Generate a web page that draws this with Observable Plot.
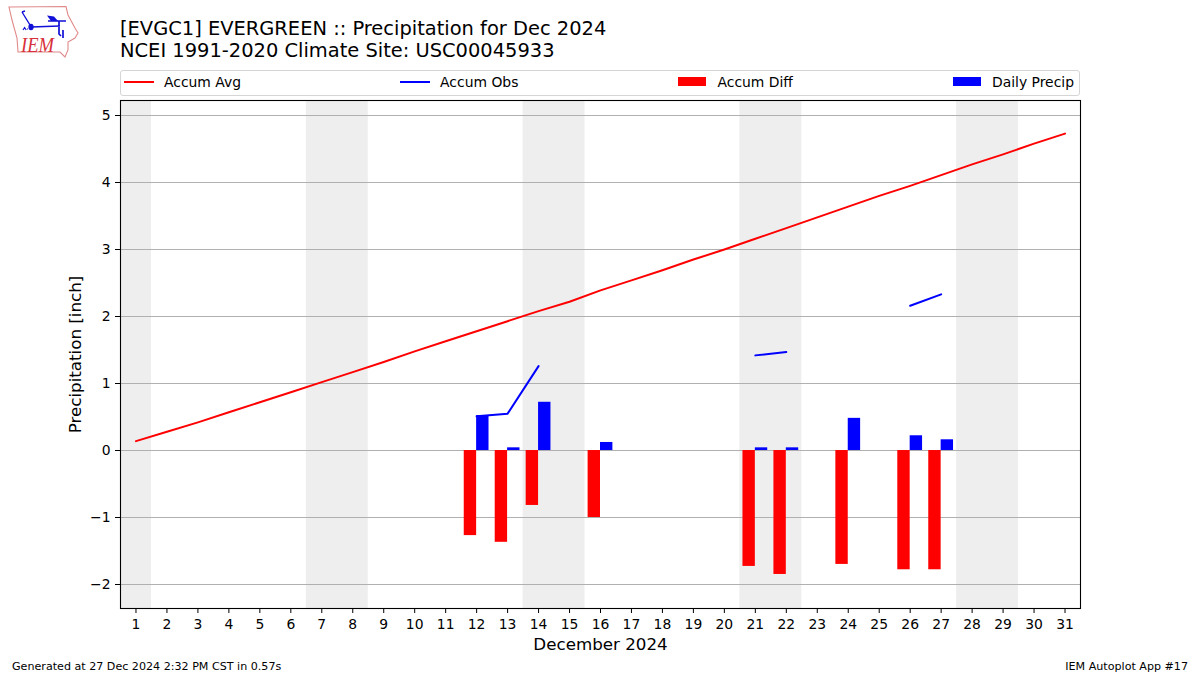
<!DOCTYPE html>
<html><head><meta charset="utf-8">
<script src="https://cdn.jsdelivr.net/npm/d3@7"></script>
<script src="https://cdn.jsdelivr.net/npm/@observablehq/plot@0.6"></script>
<style>
html,body{margin:0;padding:0;background:#fff}
#page{position:relative;width:1200px;height:675px;overflow:hidden;font-family:"DejaVu Sans",sans-serif;color:#000}
#title{position:absolute;left:120px;top:18px;font-size:19.44px;line-height:22px;white-space:nowrap}
#legend{position:absolute;left:120px;top:70px;width:958px;height:21px;padding:0 0 3px 0;border:1px solid #d5d5d5;border-radius:3px;display:flex;justify-content:space-between;align-items:center;box-sizing:content-box;font-size:13.9px}
#legend .it{display:flex;align-items:center;margin:0 5px}
#legend svg{display:block}
#chart{position:absolute;left:0;top:96px}
#logo{position:absolute;left:0;top:0}
.foot{position:absolute;top:660px;font-size:11.12px;line-height:13px;white-space:nowrap}
</style></head><body>
<div id="page">
<svg id="logo" width="90" height="65" viewBox="0 0 90 65">
<path d="M9 7 L66 6.5 L68 15 L75 28 L78 33 L75 38 L68 42 L68 50 L65 57 L60 52 L18 52 L17 38 L12 20 Z" fill="none" stroke="#e08a8a" stroke-width="1.1"/>
<path d="M22 12 L30 25 M22 12 L25 11" stroke="#1010d8" stroke-width="1.4" fill="none"/>
<ellipse cx="31" cy="27" rx="2.6" ry="3.2" fill="#1010d8"/>
<path d="M31 27 L60 26 M59 21 L59 34 L61 36 M48 21 L66 21 M63 30 L63 38" stroke="#1010d8" stroke-width="1.7" fill="none"/>
<path d="M47 15.5 L54 16.5 L58 21 L51 21 Z" fill="#1010d8"/>
<path d="M23 30 l1.6 -2.5 l1.6 2.5 M27 29 h1" stroke="#1010d8" stroke-width="1.2" fill="none"/>
<text x="21" y="52" font-family="Liberation Serif,serif" font-style="italic" font-size="22" fill="#d8303a" textLength="33" lengthAdjust="spacingAndGlyphs">IEM</text>
</svg>
<div id="title">[EVGC1] EVERGREEN :: Precipitation for Dec 2024<br>NCEI 1991-2020 Climate Site: USC00045933</div>
<div id="legend"></div>
<div id="chart"></div>
<div class="foot" style="left:12px">Generated at 27 Dec 2024 2:32 PM CST in 0.57s</div>
<div class="foot" style="right:12px">IEM Autoplot App #17</div>
</div>
<script>
const days = d3.range(1, 32);
const accumAvg = [0.14,0.28,0.42,0.57,0.72,0.87,1.02,1.17,1.32,1.48,1.63,1.78,1.93,2.08,2.22,2.39,2.54,2.69,2.85,3.00,3.16,3.32,3.48,3.64,3.80,3.95,4.11,4.27,4.42,4.58,4.73];
const accumObs = [null,null,null,null,null,null,null,null,null,null,null,0.51,0.55,1.26,null,null,null,null,null,null,1.42,1.47,null,null,null,2.16,2.33,null,null,null,null];
const diffDays = [12,13,14,16,21,22,24,26,27];
const accumDiff = [-1.27,-1.37,-0.82,-1.00,-1.73,-1.85,-1.70,-1.78,-1.78];
const precipDays = [12,13,14,16,21,22,24,26,27];
const dailyPrecip = [0.52,0.04,0.72,0.12,0.04,0.04,0.48,0.22,0.16];
const weekendStart = [0.5,6.5,13.5,20.5,27.5];
const weekendEnd = [1.5,8.5,15.5,22.5,29.5];
const yTicks = [-2,-1,0,1,2,3,4,5];
const barWidth = 0.4;
const legendItems = [["Accum Avg","line","#ff0000"],["Accum Obs","line","#0000ff"],["Accum Diff","bar","#ff0000"],["Daily Precip","bar","#0000ff"]];

const avgData = days.map((d,i)=>({d,v:accumAvg[i]}));
const obsData = days.map((d,i)=>({d,v:accumObs[i]}));
const diffData = diffDays.map((d,i)=>({d,v:accumDiff[i]}));
const precipData = precipDays.map((d,i)=>({d,v:dailyPrecip[i]}));
const weekends = weekendStart.map((s,i)=>({s,e:weekendEnd[i]}));

const plot = Plot.plot({
  width:1200,height:564,marginTop:4,marginBottom:52,marginLeft:120,marginRight:120,
  style:{fontFamily:"DejaVu Sans, sans-serif",fontSize:"13.9px",background:"transparent",overflow:"visible"},
  x:{domain:[0.5,31.5]},
  y:{domain:[-2.358,5.224]},
  marks:[
    Plot.rectX(weekends,{x1:"s",x2:"e",y1:-2.358,y2:5.224,fill:"#eeeeee",inset:0}),
    Plot.ruleY(yTicks,{stroke:"#b0b0b0",strokeWidth:1.1}),
    Plot.rectY(diffData,{x1:d=>d.d-barWidth,x2:"d",y1:0,y2:"v",fill:"#ff0000",inset:0}),
    Plot.rectY(precipData,{x1:"d",x2:d=>d.d+barWidth,y1:0,y2:"v",fill:"#0000ff",inset:0}),
    Plot.line(avgData,{x:"d",y:"v",stroke:"#ff0000",strokeWidth:2,curve:"linear"}),
    Plot.line(obsData,{x:"d",y:"v",stroke:"#0000ff",strokeWidth:2,curve:"linear"}),
    Plot.frame({stroke:"#000",strokeWidth:1.1}),
    Plot.axisX({ticks:days,tickFormat:d=>String(d),tickSize:5,tickPadding:6,stroke:"#000",strokeOpacity:1,color:"#000",
      label:"December 2024",labelAnchor:"center",labelArrow:"none",labelOffset:41,fontSize:13.9}),
    Plot.axisY({ticks:yTicks,tickSize:5,tickPadding:5,strokeOpacity:1,label:"Precipitation [inch]",labelAnchor:"center",labelArrow:"none",labelOffset:51,fontSize:13.9})
  ]
});
document.getElementById("chart").appendChild(plot);

const lg = d3.select("#legend");
for (const [name,kind,color] of legendItems){
  const it = lg.append("div").attr("class","it");
  if(kind==="line"){
    const s = it.append("svg").attr("width",30).attr("height",10).style("margin","0 10px 0 -2px");
    s.append("line").attr("x1",0).attr("x2",30).attr("y1",5).attr("y2",5).attr("stroke",color).attr("stroke-width",2);
  } else {
    const s = it.append("svg").attr("width",28).attr("height",9).style("margin","0 11px 0 -1px");
    s.append("rect").attr("x",0).attr("y",0).attr("width",28).attr("height",9).attr("fill",color);
  }
  it.append("span").text(name);
}
d3.select(plot).selectAll("text").filter(function(){return /December|Precipitation/.test(this.textContent)}).style("font-size","16.7px");
</script>
</body></html>
